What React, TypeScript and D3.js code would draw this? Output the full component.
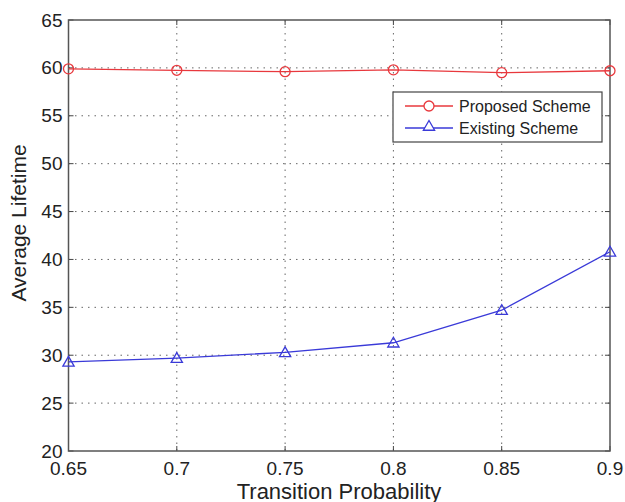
import React, { useEffect, useRef } from "react";
import * as d3 from "d3";

const xValues = [0.65, 0.7, 0.75, 0.8, 0.85, 0.9];
const proposed = [59.9, 59.75, 59.6, 59.8, 59.5, 59.7];
const existing = [29.3, 29.7, 30.3, 31.3, 34.7, 40.8];
const xTicks = [0.65, 0.7, 0.75, 0.8, 0.85, 0.9];
const yTicks = [20, 25, 30, 35, 40, 45, 50, 55, 60, 65];
const seriesNames = ["Proposed Scheme", "Existing Scheme"];

const W = 625, H = 502;
const L = 68.5, R = 610, T = 20, B = 451;

export default function App() {
  const ref = useRef<SVGSVGElement>(null);
  useEffect(() => {
    const svg = d3.select(ref.current);
    svg.selectAll("*").remove();
    const x = d3.scaleLinear().domain([0.65, 0.9]).range([L, R]);
    const y = d3.scaleLinear().domain([20, 65]).range([B, T]);
    const font = "Liberation Sans, Arial, sans-serif";

    svg.append("rect").attr("x", 0).attr("y", 0).attr("width", W).attr("height", H).attr("fill", "#fff");

    const g = svg.append("g");
    // grid
    xTicks.slice(1, -1).forEach((t) => {
      g.append("line").attr("x1", x(t)).attr("x2", x(t)).attr("y1", T).attr("y2", B)
        .attr("stroke", "#666").attr("stroke-width", 1).attr("stroke-dasharray", "1.5,5");
    });
    yTicks.slice(1, -1).forEach((t) => {
      g.append("line").attr("x1", L).attr("x2", R).attr("y1", y(t)).attr("y2", y(t))
        .attr("stroke", "#666").attr("stroke-width", 1).attr("stroke-dasharray", "1.5,5");
    });
    // ticks
    xTicks.forEach((t) => {
      g.append("line").attr("x1", x(t)).attr("x2", x(t)).attr("y1", B).attr("y2", B - 5).attr("stroke", "#444");
      g.append("line").attr("x1", x(t)).attr("x2", x(t)).attr("y1", T).attr("y2", T + 5).attr("stroke", "#444");
      g.append("text").attr("x", x(t)).attr("y", B + 24).attr("text-anchor", "middle")
        .attr("font-family", font).attr("font-size", 19).attr("fill", "#222").text(String(t));
    });
    yTicks.forEach((t) => {
      g.append("line").attr("x1", L).attr("x2", L + 5).attr("y1", y(t)).attr("y2", y(t)).attr("stroke", "#444");
      g.append("line").attr("x1", R).attr("x2", R - 5).attr("y1", y(t)).attr("y2", y(t)).attr("stroke", "#444");
      g.append("text").attr("x", L - 6).attr("y", y(t) + 6.5).attr("text-anchor", "end")
        .attr("font-family", font).attr("font-size", 19).attr("fill", "#222").text(String(t));
    });
    // box
    g.append("rect").attr("x", L).attr("y", T).attr("width", R - L).attr("height", B - T)
      .attr("fill", "none").attr("stroke", "#555").attr("stroke-width", 1.5);

    // lines
    const line = d3.line<number>().x((_, i) => x(xValues[i])).y((d) => y(d));
    g.append("path").attr("d", line(proposed)!).attr("fill", "none").attr("stroke", "#e8383d").attr("stroke-width", 1.3);
    g.append("path").attr("d", line(existing)!).attr("fill", "none").attr("stroke", "#3a3ad8").attr("stroke-width", 1.3);
    proposed.forEach((v, i) => {
      g.append("circle").attr("cx", x(xValues[i])).attr("cy", y(v)).attr("r", 5)
        .attr("fill", "none").attr("stroke", "#e8383d").attr("stroke-width", 1.3);
    });
    const tri = d3.symbol().type(d3.symbolTriangle).size(55);
    existing.forEach((v, i) => {
      g.append("path").attr("d", tri()!).attr("transform", `translate(${x(xValues[i])},${y(v) + 1})`)
        .attr("fill", "none").attr("stroke", "#3a3ad8").attr("stroke-width", 1.3);
    });

    // legend
    const lg = g.append("g");
    lg.append("rect").attr("x", 393).attr("y", 92).attr("width", 209).attr("height", 50)
      .attr("fill", "#fff").attr("stroke", "#444").attr("stroke-width", 1.2);
    const colors = ["#e8383d", "#3a3ad8"];
    seriesNames.forEach((n, i) => {
      const yy = 106 + i * 22;
      lg.append("line").attr("x1", 405).attr("x2", 453).attr("y1", yy).attr("y2", yy).attr("stroke", colors[i]).attr("stroke-width", 1.3);
      if (i === 0) {
        lg.append("circle").attr("cx", 429).attr("cy", yy).attr("r", 5).attr("fill", "#fff").attr("stroke", colors[i]).attr("stroke-width", 1.3);
      } else {
        lg.append("path").attr("d", tri()!).attr("transform", `translate(429,${yy - 1})`).attr("fill", "#fff").attr("stroke", colors[i]).attr("stroke-width", 1.3);
      }
      lg.append("text").attr("x", 459).attr("y", yy + 5.5).attr("font-family", font).attr("font-size", 16).attr("fill", "#222").text(n);
    });

    // axis labels
    g.append("text").attr("x", 339).attr("y", 499).attr("text-anchor", "middle")
      .attr("font-family", font).attr("font-size", 22).attr("fill", "#222").text("Transition Probability");
    g.append("text").attr("transform", `translate(26,223) rotate(-90)`).attr("text-anchor", "middle")
      .attr("font-family", font).attr("font-size", 21).attr("fill", "#222").text("Average Lifetime");
  }, []);
  return (
    <svg ref={ref} width={W} height={H} style={{ position: "absolute", left: 0, top: 0 }} />
  );
}
